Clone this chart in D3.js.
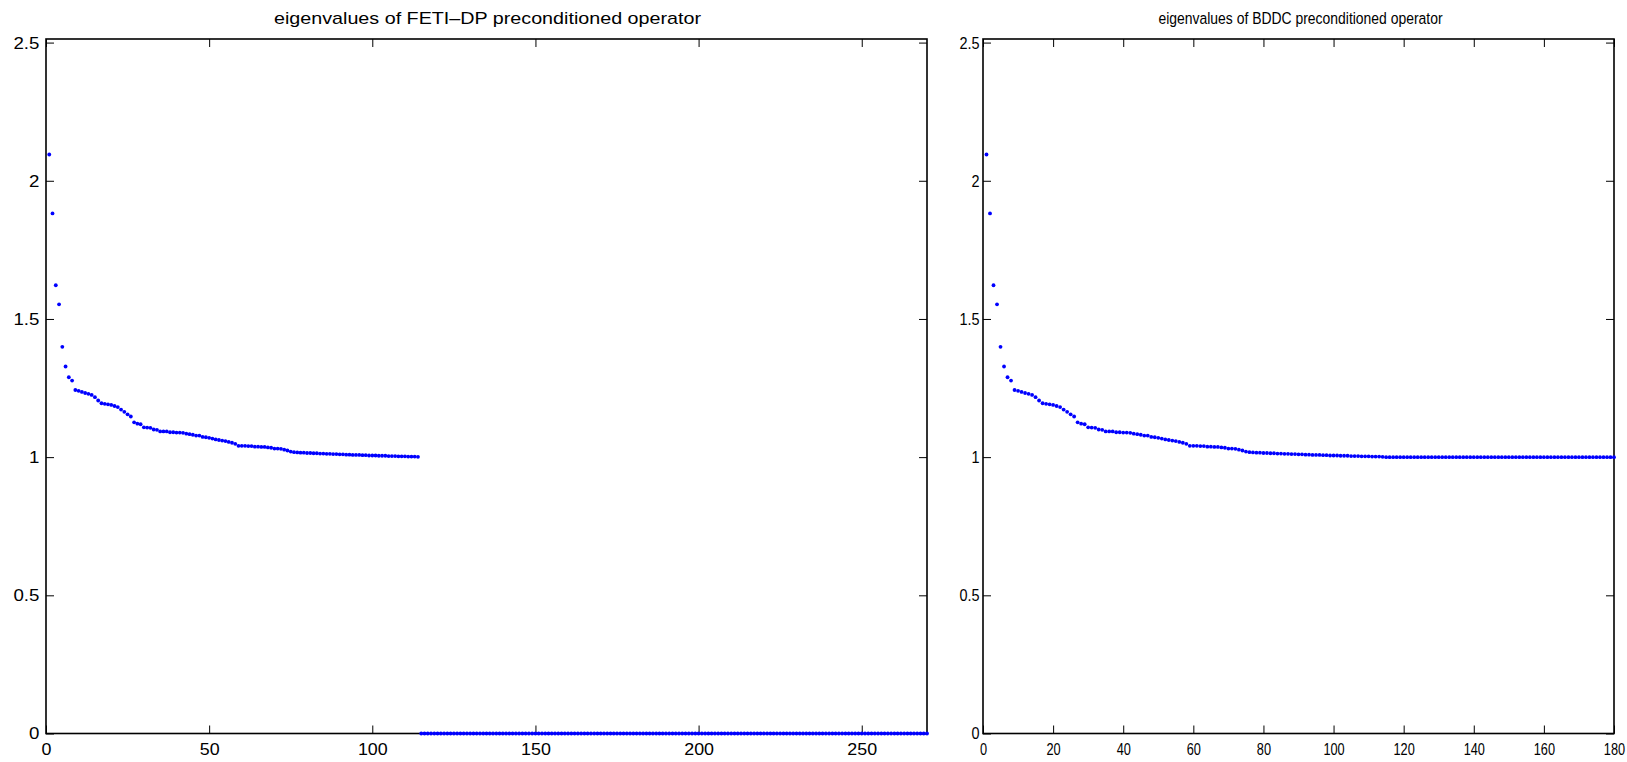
<!DOCTYPE html>
<html>
<head>
<meta charset="utf-8">
<script src="https://cdn.jsdelivr.net/npm/d3@7/dist/d3.min.js"></script>
<style>
	body { margin: 0; background: #fff; }
	svg { display: block; }
	text { font-family: "Liberation Sans", Arial, sans-serif; fill: #000; }
</style>
</head>
<body>
<script>
// eigenvalues shared by both operators (sorted, largest first)
var commonEig = [
	2.095, 1.882, 1.622, 1.553, 1.399, 1.328, 1.289, 1.277, 1.243, 1.240,
	1.236, 1.232, 1.229, 1.225, 1.217, 1.205, 1.195, 1.193, 1.191, 1.189,
	1.185, 1.181, 1.172, 1.164, 1.155, 1.147, 1.126, 1.121, 1.119, 1.108,
	1.107, 1.106, 1.100, 1.099, 1.093, 1.093, 1.093, 1.090, 1.090, 1.089,
	1.089, 1.088, 1.085, 1.083, 1.081, 1.078, 1.078, 1.073, 1.072, 1.070,
	1.067, 1.064, 1.062, 1.060, 1.058, 1.055, 1.052, 1.048, 1.041, 1.041,
	1.041, 1.040, 1.040, 1.038, 1.038, 1.037, 1.037, 1.035, 1.034, 1.031,
	1.031, 1.030, 1.027, 1.024, 1.020, 1.018, 1.017, 1.016, 1.016, 1.015,
	1.015, 1.014, 1.014, 1.013, 1.013, 1.012, 1.012, 1.011, 1.011, 1.010,
	1.010, 1.009, 1.009, 1.008, 1.008, 1.008, 1.007, 1.007, 1.006, 1.006,
	1.006, 1.005, 1.005, 1.005, 1.004, 1.004, 1.004, 1.003, 1.003, 1.003,
	1.002, 1.002, 1.002, 1.001
];
// multiplicity of the trivial eigenvalues
var fetiZeroCount = 156;   // eigenvalue 0 in FETI-DP
var bddcOneCount = 66;     // eigenvalue 1 in BDDC

var fetiXTicks = [0, 50, 100, 150, 200, 250];
var bddcXTicks = [0, 20, 40, 60, 80, 100, 120, 140, 160, 180];
var yTicks = [0, 0.5, 1, 1.5, 2, 2.5];

var fetiTitle = 'eigenvalues of FETI\u2013DP preconditioned operator';
var bddcTitle = 'eigenvalues of BDDC preconditioned operator';

var fetiEig = commonEig.concat(new Array(fetiZeroCount).fill(0));
var bddcEig = commonEig.concat(new Array(bddcOneCount).fill(1));

var svg = d3.select('body').append('svg')
	.attr('width', 1627)
	.attr('height', 762);

function drawPanel(p) {
	var x = d3.scaleLinear().domain([0, p.xMax]).range([p.left, p.right]);
	var y = d3.scaleLinear().domain([0, 2.513]).range([733.5, 39]);
	var g = svg.append('g');
	var tick = 8;

	var fmt = function(d) { return String(d); };

	var bottom = g.append('g')
		.attr('transform', 'translate(0,' + y(0) + ')')
		.call(d3.axisBottom(x).tickValues(p.xTicks).tickFormat(fmt).tickSize(-tick).tickPadding(9));
	var top = g.append('g')
		.attr('transform', 'translate(0,' + y.range()[1] + ')')
		.call(d3.axisTop(x).tickValues(p.xTicks).tickFormat('').tickSize(-tick));
	var left = g.append('g')
		.attr('transform', 'translate(' + p.left + ',0)')
		.call(d3.axisLeft(y).tickValues(yTicks).tickFormat(fmt).tickSize(-tick).tickPadding(p.yPad));
	var right = g.append('g')
		.attr('transform', 'translate(' + p.right + ',0)')
		.call(d3.axisRight(y).tickValues(yTicks).tickFormat('').tickSize(-tick));

	[bottom, top, left, right].forEach(function(a) {
		a.select('.domain').remove();
		a.selectAll('.tick line').attr('stroke', '#000').attr('stroke-width', 1);
	});

	bottom.selectAll('text')
		.attr('font-size', 17)
		.attr('transform', 'scale(' + p.xLabelScale + ',1)');
	left.selectAll('text')
		.attr('font-size', 17)
		.attr('transform', 'scale(' + p.yLabelScale + ',1)');

	g.append('rect')
		.attr('x', p.left)
		.attr('y', y.range()[1])
		.attr('width', p.right - p.left)
		.attr('height', y(0) - y.range()[1])
		.attr('fill', 'none')
		.attr('stroke', '#000')
		.attr('stroke-width', 1.6);

	var cx = (p.left + p.right) / 2 + p.titleShift;
	g.append('text')
		.attr('transform', 'translate(' + cx + ',24) scale(' + p.titleScale + ',1)')
		.attr('text-anchor', 'middle')
		.attr('font-size', 17)
		.text(p.title);

	g.append('g').selectAll('circle')
		.data(p.values)
		.join('circle')
		.attr('cx', function(d, i) { return x(i + 1); })
		.attr('cy', function(d) { return y(d); })
		.attr('r', 1.9)
		.attr('fill', '#0000ff');
}

drawPanel({
	left: 46, right: 927, xMax: 270,
	xTicks: fetiXTicks, values: fetiEig, title: fetiTitle,
	titleScale: 1.16, titleShift: 1, yPad: 6,
	xLabelScale: 1.05, yLabelScale: 1.1
});

drawPanel({
	left: 983, right: 1614, xMax: 180,
	xTicks: bddcXTicks, values: bddcEig, title: bddcTitle,
	titleScale: 0.82, titleShift: 2, yPad: 4,
	xLabelScale: 0.75, yLabelScale: 0.85
});
</script>
</body>
</html>
